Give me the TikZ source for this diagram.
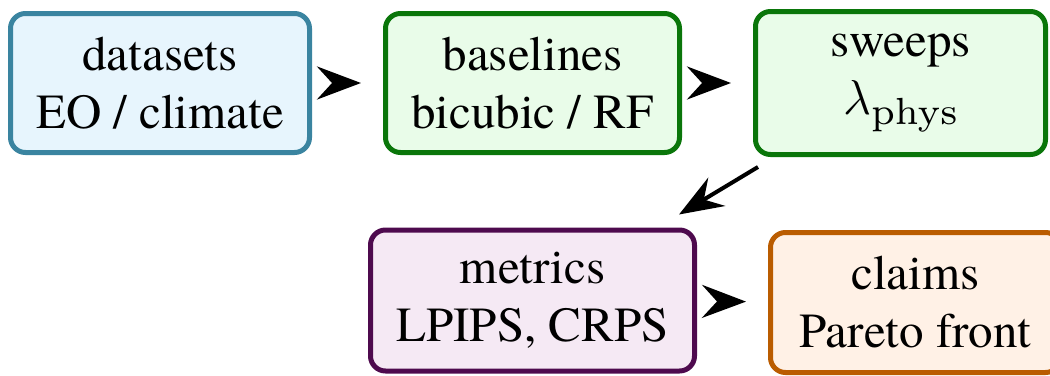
\documentclass[tikz,border=0pt]{standalone}
\usepackage{fix-cm}
\usepackage[no-math]{fontspec}
\setmainfont{texgyretermes}[Extension=.otf, UprightFont=*-regular, BoldFont=*-bold, ItalicFont=*-italic]
\usetikzlibrary{arrows.meta}
\definecolor{dsline}{RGB}{58,132,160}
\definecolor{dsfill}{RGB}{231,245,253}
\definecolor{grline}{RGB}{10,118,10}
\definecolor{grfill}{RGB}{233,252,233}
\definecolor{puline}{RGB}{78,10,78}
\definecolor{pufill}{RGB}{245,233,244}
\definecolor{orline}{RGB}{186,92,0}
\definecolor{orfill}{RGB}{255,241,230}
\newcommand{\physsub}{\mbox{\scalebox{5.4}{\usefont{OT1}{cmr}{m}{n}\fontsize{7}{8}\selectfont phys}}}
\begin{document}
\begin{tikzpicture}[x=1pt,y=-1pt,
  box/.style={draw, line width=5pt, rounded corners=15pt, align=center,
    inner sep=10pt, font=\rmfamily\fontsize{49pt}{58pt}\selectfont},
  head/.style={-{Stealth[length=44pt,width=33pt,inset=15pt]}, line width=4pt},
  flow/.style={head, shorten <=23pt, shorten >=22pt}]
\useasboundingbox (0,0) rectangle (1050,375);
\node[box, draw=dsline, fill=dsfill, minimum width=299pt, minimum height=139pt] (datasets) at (160,83) {datasets\\EO / climate};
\node[box, draw=grline, fill=grfill, minimum width=294pt, minimum height=139pt] (baselines) at (532.5,83) {baselines\\bicubic / RF};
\node[box, draw=grline, fill=grfill, minimum width=290pt, minimum height=143pt] (sweeps) at (900.5,83) {sweeps\\$\lambda_{\physsub}$};
\node[box, draw=puline, fill=pufill, minimum width=324pt, minimum height=141pt] (metrics) at (532.5,300.5) {metrics\\LPIPS, CRPS};
\node[box, draw=orline, fill=orfill, minimum width=290pt, minimum height=140pt] (claims) at (915.5,302.5) {claims\\Pareto front};
\draw[flow] (datasets) -- (baselines);
\draw[flow] (baselines) -- (sweeps);
\coordinate (d1) at ([shift={(5,10)}]sweeps.south west);
\coordinate (d2) at ([shift={(-18,-13)}]metrics.north east);
\draw[head] (d1) -- (d2);
\draw[flow] (metrics) -- (claims);
\end{tikzpicture}
\end{document}
